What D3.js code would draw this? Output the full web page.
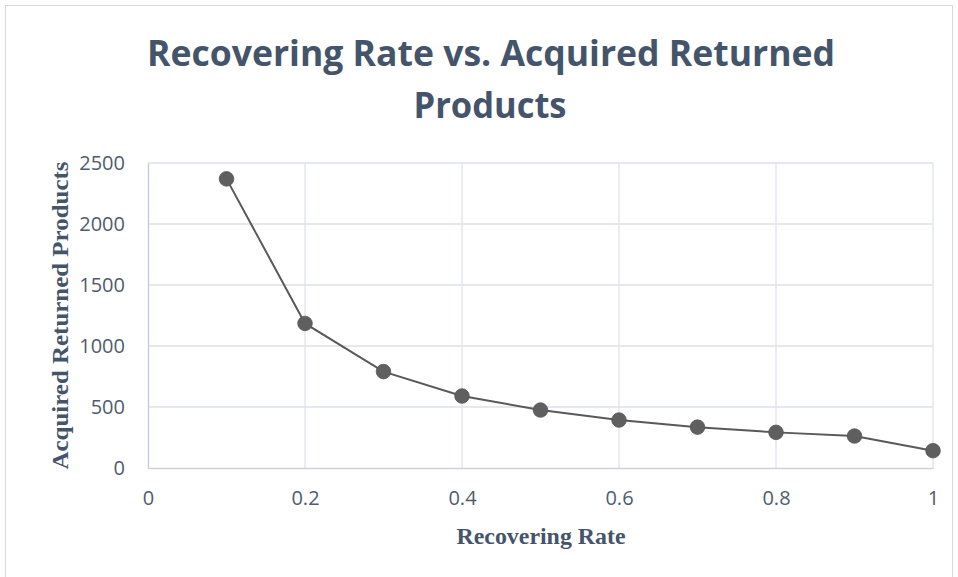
<!DOCTYPE html>
<html>
<head>
<meta charset="utf-8">
<script src="https://cdn.jsdelivr.net/npm/d3@7/dist/d3.min.js"></script>
<style>
  body { margin: 0; background: #fff; }
  svg { display: block; }
</style>
</head>
<body>
<div id="chart"></div>
<script>
const rates = [0.1, 0.2, 0.3, 0.4, 0.5, 0.6, 0.7, 0.8, 0.9, 1.0]
const products = [2370, 1185, 790, 590, 475, 393, 335, 292, 262, 142]
const xTicks = [0, 0.2, 0.4, 0.6, 0.8, 1]
const yTicks = [0, 500, 1000, 1500, 2000, 2500]

const w = 958, h = 577
const m = { left: 148, right: 25, top: 163, bottom: 109 }

const svg = d3.select('#chart').append('svg')
    .attr('width', w)
    .attr('height', h)

// chart frame
svg.append('rect')
    .attr('x', 5.5).attr('y', 5.5)
    .attr('width', w - 11).attr('height', h)
    .attr('fill', 'none')
    .attr('stroke', '#d9d9d9')

const x = d3.scaleLinear().domain([0, 1]).range([m.left, w - m.right])
const y = d3.scaleLinear().domain([0, 2500]).range([h - m.bottom, m.top])

// gridlines
svg.append('g')
    .selectAll('line')
    .data(yTicks.slice(1))
    .enter().append('line')
    .attr('x1', x(0)).attr('x2', x(1))
    .attr('y1', d => y(d)).attr('y2', d => y(d))
    .attr('stroke', '#dde2ea').attr('stroke-width', 1.3)

svg.append('g')
    .selectAll('line')
    .data(xTicks.slice(1))
    .enter().append('line')
    .attr('x1', d => x(d)).attr('x2', d => x(d))
    .attr('y1', y(0)).attr('y2', y(2500))
    .attr('stroke', '#dde2ea').attr('stroke-width', 1.3)

// axes
const xAxis = svg.append('g')
    .attr('transform', `translate(0,${y(0)})`)
    .call(d3.axisBottom(x).tickValues(xTicks).tickSize(0).tickPadding(23).tickFormat(d3.format('')))
xAxis.select('.domain').attr('stroke', '#ccd3de').attr('stroke-width', 1.3)

const yAxis = svg.append('g')
    .attr('transform', `translate(${x(0)},0)`)
    .call(d3.axisLeft(y).tickValues(yTicks).tickSize(0).tickPadding(23).tickFormat(d3.format('d')))
yAxis.select('.domain').attr('stroke', '#bfc8d6').attr('stroke-width', 1.3)

svg.selectAll('.tick text')
    .attr('font-family', 'Open Sans, sans-serif')
    .attr('font-size', 20)
    .attr('fill', '#505c6c')

// series
const line = d3.line()
    .x((d, i) => x(rates[i]))
    .y(d => y(d))

svg.append('path')
    .datum(products)
    .attr('d', line)
    .attr('fill', 'none')
    .attr('stroke', '#595959')
    .attr('stroke-width', 2)

svg.selectAll('circle')
    .data(products)
    .enter().append('circle')
    .attr('cx', (d, i) => x(rates[i]))
    .attr('cy', d => y(d))
    .attr('r', 7.3)
    .attr('fill', '#5f5f5f')
    .attr('stroke', '#555')
    .attr('stroke-width', 0.8)

// title
const title = svg.append('text')
    .attr('text-anchor', 'middle')
    .attr('font-family', 'Open Sans, sans-serif')
    .attr('font-weight', 700)
    .attr('font-size', 36)
    .attr('fill', '#44546a')
title.append('tspan').attr('x', 491).attr('y', 66)
    .attr('textLength', 688).attr('lengthAdjust', 'spacingAndGlyphs')
    .text('Recovering Rate vs. Acquired Returned')
title.append('tspan').attr('x', 490).attr('y', 118)
    .attr('textLength', 153).attr('lengthAdjust', 'spacingAndGlyphs')
    .text('Products')

// axis titles
svg.append('text')
    .attr('x', 541)
    .attr('y', 544)
    .attr('text-anchor', 'middle')
    .attr('font-family', 'Liberation Serif, serif')
    .attr('font-weight', 700)
    .attr('font-size', 24)
    .attr('textLength', 169).attr('lengthAdjust', 'spacingAndGlyphs')
    .attr('fill', '#44546a')
    .text('Recovering Rate')

svg.append('text')
    .attr('transform', `translate(68,${(y(0) + y(2500)) / 2}) rotate(-90)`)
    .attr('text-anchor', 'middle')
    .attr('font-family', 'Liberation Serif, serif')
    .attr('font-weight', 700)
    .attr('font-size', 24)
    .attr('textLength', 308).attr('lengthAdjust', 'spacingAndGlyphs')
    .attr('fill', '#44546a')
    .text('Acquired Returned Products')
</script>
</body>
</html>
